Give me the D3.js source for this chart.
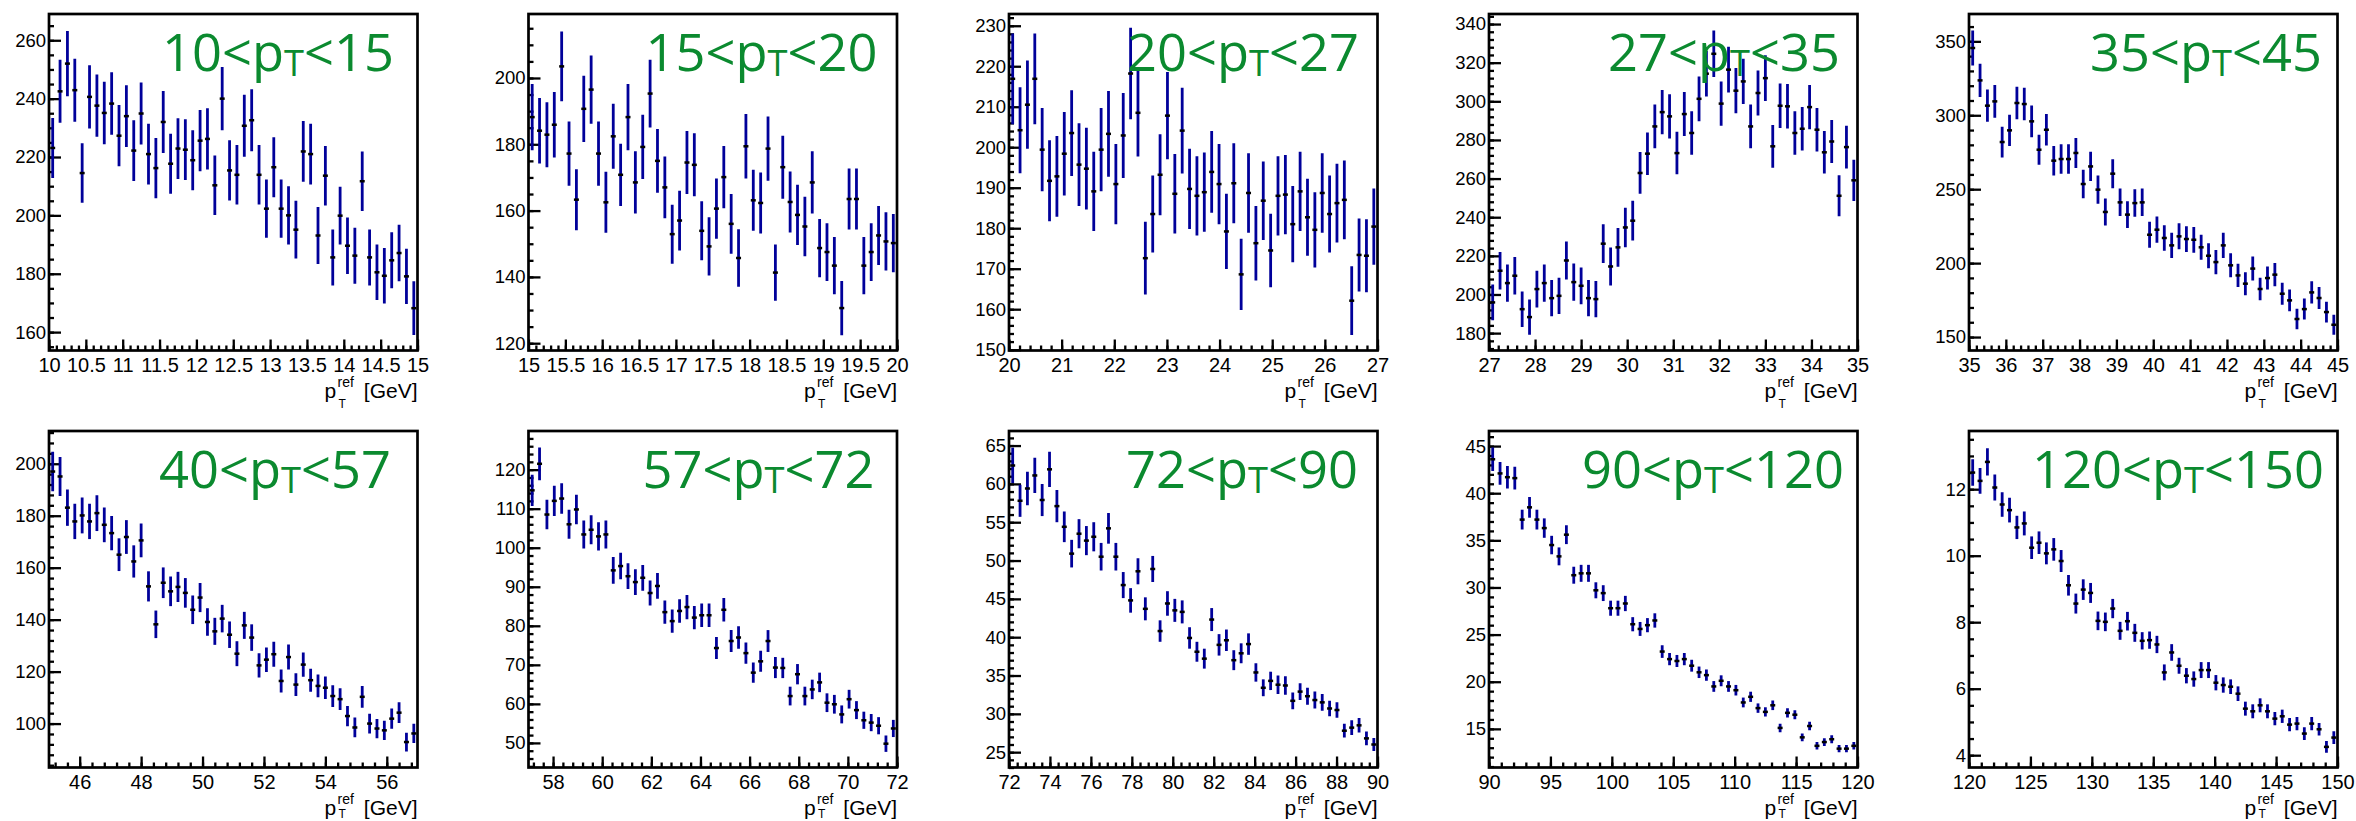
<!DOCTYPE html>
<html>
<head>
<meta charset="utf-8">
<script src="https://cdn.jsdelivr.net/npm/d3@7"></script>
<style>
    body { margin: 0; background: #fff; }
</style>
</head>
<body>
<div id="chart"></div>
<script>
// pT bins of each panel (title) and axis ranges
var titleLow = [10, 15, 20, 27, 35, 40, 57, 72, 90, 120];
var titleHigh = [15, 20, 27, 35, 45, 57, 72, 90, 120, 150];
var xMin = [10, 15, 20, 27, 35, 45, 57, 72, 90, 120];
var xMax = [15, 20, 27, 35, 45, 57, 72, 90, 120, 150];
var yMin = [153.7, 117.8, 149.8, 171, 140.9, 83.1, 43.7, 23, 10.9, 3.63];
var yMax = [269, 219.3, 232.9, 345.2, 368.5, 212.6, 129.9, 66.9, 46.6, 13.75];
var xMajor = [0.5, 0.5, 1, 1, 1, 2, 2, 2, 5, 5];
var xMinor = [0.1, 0.1, 0.2, 0.2, 0.2, 0.4, 0.4, 0.4, 1, 1];
var yMajor = [20, 20, 10, 20, 50, 20, 10, 5, 5, 2];
var yMinor = [5, 5, 2, 4, 10, 4, 2, 1, 1, 0.5];

// bin contents, 50 bins per panel
var vals1 = [223.1, 242.5, 252, 242.9, 214.5, 240.6, 237.6, 235.1, 238.3, 227.3, 234, 222.2, 234.9, 221, 216.2, 232, 217.7, 222.9, 222.5, 218.9, 225.6, 226.2, 210.3, 240, 215.4, 213.9, 230.7, 232.6, 213.9, 202.3, 216.5, 202.3, 200, 195.1, 221.9, 221, 193.1, 213.6, 185.6, 199.9, 189.6, 186.2, 211.7, 185.6, 180.5, 179.3, 184.6, 187.1, 179.1, 168.2];
var errs1 = [10.3, 10.8, 11.2, 10.8, 10.2, 10.8, 10.7, 10.7, 10.7, 10.5, 10.6, 10.4, 10.6, 10.4, 10.3, 10.6, 10.3, 10.4, 10.4, 10.3, 10.5, 10.5, 10.2, 10.8, 10.3, 10.2, 10.6, 10.6, 10.2, 10, 10.3, 10, 10, 9.9, 10.4, 10.4, 9.8, 10.2, 9.6, 9.9, 9.7, 9.6, 10.2, 9.6, 9.5, 9.5, 9.6, 9.7, 9.5, 9.2];
var vals2 = [188.2, 184.1, 182.9, 185.9, 203.5, 177.2, 163.3, 190.7, 196.5, 177.2, 162.5, 182.4, 170.8, 188.2, 168.5, 179.2, 195.3, 175, 167, 152.9, 157, 174.5, 173.8, 153.9, 149.2, 160.6, 170.1, 156, 145.7, 179.4, 163.1, 162.3, 178.7, 141.3, 173.1, 162.6, 158.7, 155.2, 168.5, 148.7, 147.5, 143.4, 130.6, 163.5, 163.5, 143.4, 147.5, 152.5, 150.7, 150.2];
var errs2 = [10, 9.9, 9.8, 9.9, 10.5, 9.7, 9.2, 10, 10.3, 9.7, 9.2, 9.8, 9.4, 10, 9.4, 9.7, 10.2, 9.6, 9.3, 8.9, 9, 9.5, 9.5, 8.9, 8.8, 9.1, 9.4, 9, 8.7, 9.7, 9.2, 9.2, 9.7, 8.5, 9.5, 9.2, 9.1, 9, 9.4, 8.8, 8.7, 8.6, 8.2, 9.2, 9.2, 8.6, 8.7, 8.9, 8.8, 8.8];
var vals3 = [216.9, 204.2, 210.5, 216.9, 199.4, 191.7, 192.8, 198.4, 203.5, 195.7, 194.7, 189.1, 199.4, 203.3, 190.9, 202.9, 218.2, 208.5, 172.6, 183.5, 193.2, 207.8, 188.5, 204.1, 189.7, 188, 188.9, 193.9, 190.9, 179.2, 191.1, 168.6, 188.7, 176.3, 186.8, 174.5, 188, 188.3, 181, 189.1, 182.7, 179.6, 188.7, 183.5, 186.2, 187, 162.1, 173.4, 173.2, 180.4];
var errs3 = [11.2, 10.6, 10.9, 11.2, 10.3, 10, 10, 10.3, 10.6, 10.2, 10.1, 9.8, 10.3, 10.6, 9.9, 10.5, 11.3, 10.8, 9, 9.5, 10, 10.8, 9.8, 10.6, 9.9, 9.8, 9.8, 10.1, 9.9, 9.3, 9.9, 8.8, 9.8, 9.2, 9.7, 9.1, 9.8, 9.8, 9.4, 9.8, 9.5, 9.3, 9.8, 9.5, 9.7, 9.7, 8.5, 9, 9, 9.4];
var vals4 = [195.9, 212.3, 205.9, 209.7, 192.4, 188.3, 202.8, 205.9, 198.1, 199.3, 217.6, 206.4, 204.5, 198.1, 197.6, 226.3, 214.5, 224.4, 234.7, 238.2, 262.9, 272.9, 287, 294.4, 292.2, 273.2, 293.4, 283.6, 301.3, 314.3, 324.6, 298.8, 316.4, 305.5, 310.3, 287, 304.3, 312, 276.7, 297.7, 297.4, 283.6, 285.8, 297, 285.3, 273.6, 279.2, 251.1, 276.3, 259.1];
var errs4 = [9.3, 9.7, 9.6, 9.7, 9.2, 9.1, 9.5, 9.6, 9.4, 9.4, 9.8, 9.6, 9.5, 9.4, 9.4, 10, 9.8, 10, 10.2, 10.3, 10.8, 11, 11.3, 11.4, 11.4, 11, 11.4, 11.2, 11.6, 11.8, 12, 11.5, 11.9, 11.7, 11.7, 11.3, 11.6, 11.8, 11.1, 11.5, 11.5, 11.2, 11.3, 11.5, 11.3, 11, 11.1, 10.6, 11.1, 10.7];
var vals5 = [345.5, 323.6, 306.5, 309.4, 281.9, 289.8, 308.3, 307.6, 295.9, 276.7, 290.2, 269.3, 270.4, 270.4, 274.5, 253.5, 265.4, 249.7, 234.6, 260.5, 241.1, 232.8, 240.6, 241.1, 219.2, 222.6, 217, 212, 218.1, 216.3, 215.8, 210.7, 205, 200.7, 212, 198.5, 191.7, 186.1, 196.3, 182.5, 189.9, 192.2, 179.3, 174.8, 162.2, 168.9, 180.2, 176.4, 166.9, 158.3];
var errs5 = [11.8, 11.3, 10.9, 11, 10.4, 10.6, 11, 11, 10.7, 10.2, 10.6, 10, 10, 10, 10.1, 9.6, 9.9, 9.5, 9.1, 9.8, 9.3, 9.1, 9.3, 9.3, 8.8, 8.9, 8.7, 8.6, 8.8, 8.7, 8.7, 8.5, 8.4, 8.2, 8.6, 8.1, 7.9, 7.8, 8.1, 7.6, 7.8, 7.9, 7.5, 7.3, 7, 7.1, 7.5, 7.4, 7, 6.8];
var vals6 = [197, 195.1, 183.1, 177.8, 180.1, 177.8, 181, 176.5, 173.3, 165, 171.8, 162.4, 170.5, 152.8, 138.2, 154.2, 150.9, 152.6, 150.3, 143.8, 148.5, 139.1, 135.5, 140.4, 134.2, 126.9, 137.8, 133.1, 122.4, 124.6, 126.7, 116.4, 125.6, 115, 122.7, 116.7, 114.5, 113.8, 110.6, 109.4, 102.9, 98.5, 110.3, 100, 98.1, 97.4, 101.9, 104.2, 92.9, 96.2];
var errs6 = [7.6, 7.5, 7, 6.8, 6.9, 6.8, 6.9, 6.7, 6.6, 6.3, 6.5, 6.2, 6.5, 5.8, 5.3, 5.9, 5.7, 5.8, 5.7, 5.5, 5.6, 5.3, 5.2, 5.3, 5.1, 4.8, 5.2, 5.1, 4.7, 4.7, 4.8, 4.4, 4.8, 4.4, 4.7, 4.4, 4.4, 4.3, 4.2, 4.2, 3.9, 3.8, 4.2, 3.8, 3.7, 3.7, 3.9, 4, 3.6, 3.7];
var vals7 = [114.7, 121.5, 108.5, 112, 112.6, 106, 109.8, 103.4, 104.6, 102.9, 103.4, 94.2, 95.3, 92.7, 91.2, 92.3, 88.4, 90.2, 83.5, 81.2, 83.8, 84.8, 82.1, 82.7, 82.7, 74.3, 84.1, 76.1, 77, 73, 68, 70.9, 76.1, 69.3, 69.2, 62, 67.6, 62, 63.7, 65.5, 60.3, 59.9, 57.3, 61.2, 58.4, 55.8, 55.2, 54.4, 49.8, 53.7];
var errs7 = [4, 4.2, 3.8, 3.9, 3.9, 3.7, 3.8, 3.6, 3.7, 3.6, 3.6, 3.4, 3.4, 3.3, 3.3, 3.3, 3.2, 3.3, 3, 3, 3, 3.1, 3, 3, 3, 2.8, 3, 2.8, 2.9, 2.7, 2.6, 2.7, 2.8, 2.7, 2.6, 2.4, 2.6, 2.4, 2.5, 2.5, 2.4, 2.4, 2.3, 2.4, 2.3, 2.2, 2.2, 2.2, 2.1, 2.2];
var vals8 = [62.4, 57.8, 59.4, 61.1, 57.9, 61.9, 57.1, 54.4, 50.9, 53.5, 52.6, 53.1, 50.5, 54.2, 50.5, 46.8, 44.8, 48.6, 43.7, 48.9, 40.8, 44.4, 43.5, 43.3, 39.9, 38.1, 37.2, 42.3, 39, 39.6, 37, 37.9, 39.1, 35.4, 33.4, 34.3, 33.8, 33.7, 31.7, 32.9, 32.3, 31.8, 31.5, 30.7, 30.5, 27.8, 28.2, 28.5, 26.8, 26];
var errs8 = [2.3, 2.1, 2.2, 2.3, 2.1, 2.3, 2.1, 2, 1.8, 1.9, 1.9, 1.9, 1.8, 2, 1.8, 1.7, 1.6, 1.7, 1.5, 1.7, 1.4, 1.6, 1.5, 1.5, 1.4, 1.3, 1.3, 1.5, 1.4, 1.4, 1.3, 1.3, 1.4, 1.2, 1.1, 1.2, 1.2, 1.2, 1.1, 1.1, 1.1, 1.1, 1.1, 1, 1, 0.9, 0.95, 0.95, 0.9, 0.85];
var vals9 = [43.6, 42.1, 41.7, 41.6, 37.2, 38.5, 37.2, 36.3, 34.5, 33.3, 35.6, 31.3, 31.5, 31.5, 29.7, 29.4, 27.8, 27.8, 28.3, 26.1, 25.6, 26, 26.5, 23.2, 22.4, 22.2, 22.4, 21.7, 21, 20.7, 19.5, 20.1, 19.5, 19.1, 17.8, 18.4, 17.2, 16.8, 17.5, 15.1, 16.7, 16.5, 14.1, 15.3, 13.2, 13.6, 13.9, 12.9, 12.9, 13.2];
var errs9 = [1.25, 1.2, 1.2, 1.2, 1.05, 1.1, 1.05, 1.03, 0.98, 0.95, 1, 0.9, 0.9, 0.9, 0.85, 0.84, 0.8, 0.8, 0.81, 0.75, 0.74, 0.75, 0.76, 0.67, 0.65, 0.64, 0.65, 0.63, 0.61, 0.6, 0.57, 0.58, 0.57, 0.56, 0.52, 0.54, 0.5, 0.49, 0.51, 0.45, 0.49, 0.48, 0.42, 0.45, 0.4, 0.41, 0.42, 0.39, 0.39, 0.4];
var vals10 = [12.5, 12.25, 12.82, 12.05, 11.54, 11.37, 10.85, 10.97, 10.24, 10.39, 10.07, 10.19, 9.84, 9.11, 8.56, 8.98, 8.88, 8.04, 8.01, 8.41, 7.74, 8.03, 7.68, 7.44, 7.46, 7.33, 6.49, 7.09, 6.69, 6.39, 6.29, 6.56, 6.56, 6.18, 6.11, 6.06, 5.85, 5.4, 5.32, 5.5, 5.32, 5.1, 5.17, 4.92, 4.95, 4.65, 4.95, 4.78, 4.25, 4.53];
var errs10 = [0.4, 0.39, 0.41, 0.39, 0.37, 0.37, 0.35, 0.36, 0.34, 0.34, 0.33, 0.34, 0.33, 0.31, 0.3, 0.31, 0.3, 0.28, 0.28, 0.29, 0.27, 0.28, 0.27, 0.26, 0.26, 0.26, 0.24, 0.25, 0.24, 0.23, 0.23, 0.24, 0.24, 0.23, 0.23, 0.22, 0.22, 0.21, 0.21, 0.21, 0.21, 0.2, 0.2, 0.2, 0.2, 0.19, 0.2, 0.19, 0.18, 0.19];

var values = [vals1, vals2, vals3, vals4, vals5, vals6, vals7, vals8, vals9, vals10];
var errors = [errs1, errs2, errs3, errs4, errs5, errs6, errs7, errs8, errs9, errs10];

(function () {
    "use strict";

    var vWidth = 2356, vHeight = 821;
    var vFrameLeft = [49, 528.5, 1009, 1489, 1969];
    var vFrameTop = [14, 431];
    var vFrameW = 368.5, vFrameH = 336.5;
    var vTitleX = [113, 117, 118, 119, 121, 110, 114, 117, 93, 63];
    var vFont = "'Liberation Sans', Arial, Helvetica, sans-serif";
    var cBlue = "#00009a", cGreen = "#0b8a2f";

    var svg = d3.select("#chart")
        .append("svg")
        .attr("width", vWidth)
        .attr("height", vHeight)
        .style("display", "block");

    function tickList(aLo, aHi, aStep) {
        var k0 = Math.ceil(aLo / aStep - 1e-6), k1 = Math.floor(aHi / aStep + 1e-6);
        return d3.range(k0, k1 + 1).map(function (k) { return +(k * aStep).toFixed(4); });
    }

    var vTitles = [];

    values.forEach(function (aVals, i) {
        var col = i % 5, row = Math.floor(i / 5);
        var g = svg.append("g")
            .attr("transform", "translate(" + vFrameLeft[col] + "," + vFrameTop[row] + ")");

        var x = d3.scaleLinear().domain([xMin[i], xMax[i]]).range([0, vFrameW]);
        var y = d3.scaleLinear().domain([yMin[i], yMax[i]]).range([vFrameH, 0]);

        // minor ticks
        g.append("g")
            .attr("transform", "translate(0," + vFrameH + ")")
            .call(d3.axisBottom(x).tickValues(tickList(xMin[i], xMax[i], xMinor[i])).tickSize(-5).tickFormat(""));
        g.append("g")
            .call(d3.axisLeft(y).tickValues(tickList(yMin[i], yMax[i], yMinor[i])).tickSize(-5).tickFormat(""));

        // major ticks + labels
        var gx = g.append("g")
            .attr("transform", "translate(0," + vFrameH + ")")
            .call(d3.axisBottom(x).tickValues(tickList(xMin[i], xMax[i], xMajor[i])).tickSize(-11).tickFormat(function (d) { return String(d); }));
        gx.selectAll(".tick text").attr("y", 21).attr("dy", null)
            .attr("font-size", 20).attr("font-family", vFont).attr("fill", "#000");

        var gy = g.append("g")
            .call(d3.axisLeft(y).tickValues(tickList(yMin[i], yMax[i], yMajor[i])).tickSize(-12).tickPadding(3).tickFormat(function (d) { return String(d); }));
        gy.selectAll(".tick text").attr("font-size", 18.5).attr("font-family", vFont).attr("fill", "#000");

        g.selectAll(".domain").remove();
        g.selectAll(".tick line").attr("stroke", "#000").attr("stroke-width", 2.3);

        // points with error bars
        g.append("clipPath").attr("id", "clip" + i)
            .append("rect").attr("width", vFrameW).attr("height", vFrameH);
        var vBinW = (xMax[i] - xMin[i]) / aVals.length;
        var pts = g.append("g").attr("clip-path", "url(#clip" + i + ")")
            .selectAll("g")
            .data(aVals.map(function (v, j) { return { x: xMin[i] + (j + 0.5) * vBinW, v: v, e: errors[i][j] }; }))
            .enter()
            .append("g");
        pts.append("line")
            .attr("x1", function (d) { return x(d.x); })
            .attr("x2", function (d) { return x(d.x); })
            .attr("y1", function (d) { return y(d.v - d.e); })
            .attr("y2", function (d) { return y(d.v + d.e); })
            .attr("stroke", cBlue)
            .attr("stroke-width", 2.8);
        pts.append("rect")
            .attr("x", function (d) { return x(d.x) - 2.5; })
            .attr("y", function (d) { return y(d.v) - 1.25; })
            .attr("width", 5)
            .attr("height", 2.5)
            .attr("fill", "#000");

        // frame
        g.append("rect")
            .attr("width", vFrameW)
            .attr("height", vFrameH)
            .attr("fill", "none")
            .attr("stroke", "#000")
            .attr("stroke-width", 2.7);

        // x axis title  p_T^ref [GeV]
        var gt = g.append("g").attr("font-family", vFont).attr("fill", "#000");
        gt.append("text").attr("x", vFrameW).attr("y", vFrameH + 47).attr("text-anchor", "end")
            .attr("font-size", 21).text("[GeV]");
        gt.append("text").attr("x", vFrameW - 93).attr("y", vFrameH + 47)
            .attr("font-size", 21).text("p");
        gt.append("text").attr("x", vFrameW - 80).attr("y", vFrameH + 36)
            .attr("font-size", 14).text("ref");
        gt.append("text").attr("x", vFrameW - 79).attr("y", vFrameH + (row === 0 ? 57 : 50.5))
            .attr("font-size", 12).text("T");

        // green bin label
        var t = g.append("text")
            .attr("font-family", "'Open Sans', 'Noto Sans', sans-serif")
            .attr("font-size", 52)
            .attr("fill", cGreen);
        t.append("tspan").text(titleLow[i] + "<p");
        t.append("tspan").attr("font-size", 36).attr("dy", 4.5).text("T");
        t.append("tspan").attr("dy", -4.5).text("<" + titleHigh[i]);
        vTitles.push({ node: t, x: vTitleX[i] });
    });

    // squeeze the labels to the narrow face used in the original
    var vScale = 232 / vTitles[0].node.node().getComputedTextLength();
    vTitles.forEach(function (aT) {
        aT.node.attr("transform", "translate(" + aT.x + ",57) scale(" + vScale + ",1)");
    });
})();
</script>
</body>
</html>
